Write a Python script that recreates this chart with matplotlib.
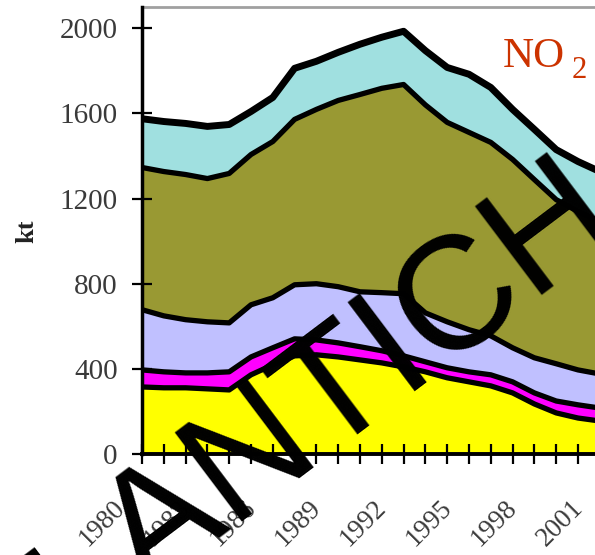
import matplotlib
matplotlib.use('Agg')
import matplotlib.pyplot as plt
import numpy as np
from matplotlib.transforms import ScaledTranslation

# ---- data (kt) ----
years = list(range(1980, 2002))
yellow   = [315, 311, 311, 306, 301, 372, 419, 461, 466, 456, 442, 428, 409, 386, 358, 339, 320, 287, 235, 193, 169, 155]
magenta  = [80, 75, 70, 75, 85, 84, 80, 80, 70, 66, 62, 57, 52, 47, 47, 47, 52, 52, 52, 56, 62, 61]
lavender = [283, 263, 250, 240, 230, 245, 235, 254, 264, 264, 258, 273, 292, 230, 216, 198, 183, 160, 165, 175, 164, 160]
olive    = [668, 678, 682, 673, 702, 706, 734, 777, 819, 875, 927, 960, 983, 977, 937, 927, 909, 885, 837, 771, 744, 716]
cyan     = [229, 235, 240, 245, 230, 202, 207, 240, 226, 226, 236, 240, 250, 255, 258, 273, 258, 235, 236, 235, 235, 235]
layers = [yellow, magenta, lavender, olive, cyan]
colors = ['#FFFF00', '#FF00FF', '#C0C0FF', '#999933', '#A0E0E0']
ytick_vals = [0, 400, 800, 1200, 1600, 2000]
xtick_years = list(range(1980, 2002, 3))
ylabel = 'kt'
species = 'NO'
species_sub = '2'
watermark_prefix = 'M'
watermark = 'ANTICH'

W, H = 595, 555
fig = plt.figure(figsize=(W / 100, H / 100), dpi=100)
px_per_year = 21.8
x0, x1 = 1980, 2003
ax = fig.add_axes([142 / W, 101 / H, px_per_year * (x1 - x0) / W, 447 / H])

ax.stackplot(years, *layers, colors=colors, linewidth=0)
cum = np.cumsum(np.array(layers, dtype=float), axis=0)
for i, c in enumerate(cum):
    ax.plot(years, c, color='black', lw=5.0 if i == len(cum) - 1 else 3.8,
            solid_joinstyle='round', zorder=3)

ax.set_xlim(x0, x1)
ax.set_ylim(0, 2100)

ax.spines['right'].set_visible(False)
ax.spines['top'].set_color('#A0A0A0')
ax.spines['top'].set_linewidth(2.0)
ax.spines['left'].set_linewidth(2.5)
ax.spines['bottom'].set_linewidth(2.8)
ax.spines['left'].set_zorder(5)
ax.spines['bottom'].set_zorder(5)

serif = 'Liberation Serif'
ax.set_yticks(ytick_vals)
ax.set_yticklabels([str(v) for v in ytick_vals], fontfamily=serif, fontsize=21, color='#3a3a3a')
ax.tick_params(axis='y', direction='inout', length=15, width=1.6, pad=10)

ax.set_xticks(years, minor=True)
ax.set_xticks(xtick_years)
ax.set_xticklabels([str(y) for y in xtick_years], fontfamily=serif, fontsize=19.5,
                   color='#3a3a3a', rotation=45, ha='right', va='top')
ax.tick_params(axis='x', which='both', direction='inout', length=15, width=1.6, pad=22)
off = ScaledTranslation(-12 / 100, 0, fig.dpi_scale_trans)
for lab in ax.get_xticklabels():
    lab.set_transform(lab.get_transform() + off)

fig.text(27 / W, 1 - 231 / H, ylabel, rotation=90, ha='center', va='center',
         fontfamily=serif, fontweight='bold', fontsize=19, color='#222222')

# species label
fig.text(503 / W, 1 - 67 / H, species, fontfamily=serif, fontsize=31, color='#CC3300',
         ha='left', va='baseline')
fig.text(572 / W, 1 - 78 / H, species_sub, fontfamily=serif, fontsize=22, color='#CC3300',
         ha='left', va='baseline')

# watermark
wm_kw = dict(rotation=37, rotation_mode='anchor', va='baseline',
             fontfamily='Liberation Sans', fontsize=116, color='black', zorder=10)
fig.text(146 / W, 1 - 593 / H, watermark, ha='left', **wm_kw)
fig.text(110 / W, 1 - 620 / H, watermark_prefix, ha='right', **wm_kw)

fig.savefig('out.png', dpi=100)
